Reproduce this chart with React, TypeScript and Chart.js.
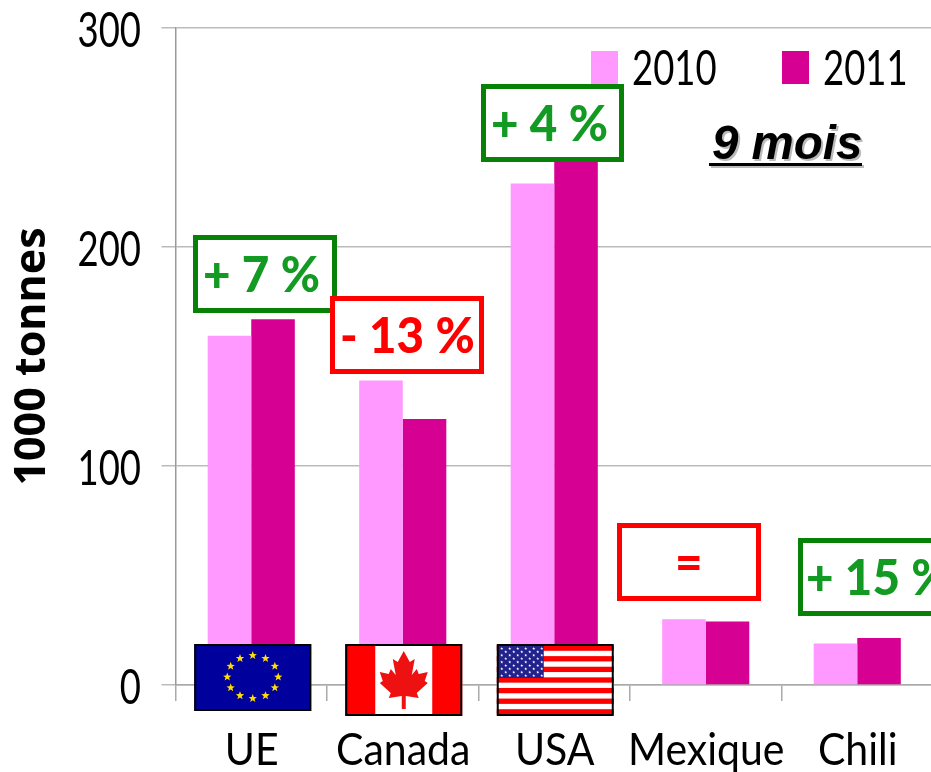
import React, { useEffect, useRef } from "react";
import { Chart, registerables } from "chart.js";

Chart.register(...registerables);

const categories = ["UE", "Canada", "USA", "Mexique", "Chili"];
const seriesNames = ["2010", "2011"];
const values2010 = [159.5, 139, 229, 30, 19];
const values2011 = [167, 121.5, 240, 29, 21.5];
const yTicks = [0, 100, 200, 300];
const yTitle = "1000 tonnes";
const periodLabel = "9 mois";
const changeLabels = ["+ 7 %", "- 13 %", "+ 4 %", "=", "+ 15 %"];

const PINK = "#FF99FF";
const MAGENTA = "#D60093";
const GREEN_BORDER = "#078207";
const GREEN_TEXT = "#129A22";
const RED = "#FF0000";
const LABEL_FONT = "Lato, sans-serif";
const ITALIC_FONT = '"Liberation Sans", Arial, sans-serif';

const changeBoxes = [
  { x: 193, y: 235, w: 144, h: 78, border: GREEN_BORDER, text: GREEN_TEXT, tx: 203 },
  { x: 330, y: 296, w: 154, h: 78, border: RED, text: RED, tx: 340 },
  { x: 481, y: 84, w: 143, h: 78, border: GREEN_BORDER, text: GREEN_TEXT, tx: 491 },
  { x: 617, y: 523, w: 144, h: 78, border: RED, text: RED, tx: 675 },
  { x: 798, y: 538, w: 154, h: 78, border: GREEN_BORDER, text: GREEN_TEXT, tx: 806 },
];

function stretched(
  ctx: CanvasRenderingContext2D,
  text: string,
  x: number,
  baseline: number,
  font: string,
  sy: number,
  align: CanvasTextAlign = "left",
  color = "#000"
) {
  ctx.save();
  ctx.font = font;
  ctx.fillStyle = color;
  ctx.textAlign = align;
  ctx.textBaseline = "alphabetic";
  ctx.translate(x, baseline);
  ctx.scale(1, sy);
  ctx.fillText(text, 0, 0);
  ctx.restore();
}

function star(ctx: CanvasRenderingContext2D, cx: number, cy: number, r: number, color: string) {
  ctx.fillStyle = color;
  ctx.beginPath();
  for (let i = 0; i < 10; i++) {
    const a = -Math.PI / 2 + (i * Math.PI) / 5;
    const rad = i % 2 === 0 ? r : r * 0.42;
    ctx.lineTo(cx + rad * Math.cos(a), cy + rad * Math.sin(a));
  }
  ctx.closePath();
  ctx.fill();
}

function flagFrame(ctx: CanvasRenderingContext2D, x: number, y: number, w: number, h: number) {
  ctx.strokeStyle = "#000";
  ctx.lineWidth = 2;
  ctx.strokeRect(x + 1, y + 1, w - 2, h - 2);
}

function drawEU(ctx: CanvasRenderingContext2D, cx: number, y: number) {
  const w = 117, h = 67, x = cx - w / 2;
  ctx.fillStyle = "#00009C";
  ctx.fillRect(x, y, w, h);
  const ccy = y + 33;
  for (let i = 0; i < 12; i++) {
    const a = (i * Math.PI) / 6;
    star(ctx, cx + 25.5 * Math.sin(a), ccy - 21.5 * Math.cos(a), 4.4, "#FFDD00");
  }
  flagFrame(ctx, x, y, w, h);
}

function drawCanada(ctx: CanvasRenderingContext2D, cx: number, y: number) {
  const w = 117, h = 72, x = cx - w / 2;
  ctx.fillStyle = "#FFFFFF";
  ctx.fillRect(x, y, w, h);
  ctx.fillStyle = "#FF0000";
  ctx.fillRect(x, y, 30, h);
  ctx.fillRect(x + w - 30, y, 30, h);
  const leaf = [
    [0, -28], [-6, -17], [-11, -20], [-8, -4], [-13, -10], [-15, -5], [-24, -7], [-21, 2], [-24, 4],
    [-13, 14], [-15, 19], [-2, 17], [-2, 30], [2, 30], [2, 17], [15, 19], [13, 14], [24, 4], [21, 2],
    [24, -7], [15, -5], [13, -10], [8, -4], [11, -20], [6, -17],
  ];
  const cy = y + 35;
  ctx.fillStyle = "#EE1111";
  ctx.beginPath();
  leaf.forEach(([dx, dy]) => ctx.lineTo(cx + dx, cy + dy));
  ctx.closePath();
  ctx.fill();
  flagFrame(ctx, x, y, w, h);
}

function drawUSA(ctx: CanvasRenderingContext2D, cx: number, y: number) {
  const w = 117, h = 72, x = cx - w / 2;
  ctx.fillStyle = "#FFFFFF";
  ctx.fillRect(x, y, w, h);
  ctx.fillStyle = "#FF0000";
  const sh = (h - 3) / 13;
  for (let i = 0; i < 13; i += 2) ctx.fillRect(x, y + 1.5 + i * sh, w, sh);
  const cw = 46, ch = 33;
  ctx.fillStyle = "#22228C";
  ctx.fillRect(x + 1, y + 1, cw, ch);
  for (let r = 0; r < 9; r++) {
    const n = r % 2 === 0 ? 6 : 5;
    for (let c = 0; c < n; c++) {
      const sx = x + 5 + c * 8 + (r % 2 === 0 ? 0 : 4);
      star(ctx, sx, y + 4.5 + r * 3.4, 1.6, "#FFFFFF");
    }
  }
  flagFrame(ctx, x, y, w, h);
}

const overlayPlugin = {
  id: "overlay",
  afterDraw(chart: any) {
    const ctx: CanvasRenderingContext2D = chart.ctx;
    const xs = chart.scales.x;
    const ys = chart.scales.y;
    ctx.save();

    const labelFont = `36.5px ${LABEL_FONT}`;
    const labelStretch = 1.3;

    // value tick labels
    yTicks.forEach((v) => {
      stretched(ctx, String(v), 141, ys.getPixelForValue(v) + 19, labelFont, labelStretch, "right");
    });

    // category labels
    categories.forEach((c, i) => {
      stretched(ctx, c, xs.getPixelForValue(i) + 0.5, 765, `41px ${LABEL_FONT}`, 1.1, "center");
    });

    // legend
    const legendX = [591, 782];
    const legendColors = [PINK, MAGENTA];
    seriesNames.forEach((name, i) => {
      ctx.fillStyle = legendColors[i];
      ctx.fillRect(legendX[i], 51, 27, 33);
      stretched(ctx, name, legendX[i] + 41, 85, labelFont, labelStretch);
    });

    // flags, anchored on the category scale
    const flagTop = ys.getPixelForValue(0) - 41;
    drawEU(ctx, xs.getPixelForValue(0) + 1.5, flagTop);
    drawCanada(ctx, xs.getPixelForValue(1) + 1, flagTop);
    drawUSA(ctx, xs.getPixelForValue(2) + 1, flagTop);

    // change boxes
    changeBoxes.forEach((b, i) => {
      ctx.fillStyle = "#FFFFFF";
      ctx.fillRect(b.x, b.y, b.w, b.h);
      ctx.strokeStyle = b.border;
      ctx.lineWidth = 5;
      ctx.strokeRect(b.x + 2.5, b.y + 2.5, b.w - 5, b.h - 5);
      stretched(ctx, changeLabels[i], b.tx, b.y + 57, `900 47.5px ${LABEL_FONT}`, 1.06, "left", b.text);
    });

    // period label
    ctx.font = `italic bold 47.5px ${ITALIC_FONT}`;
    ctx.textBaseline = "alphabetic";
    ctx.fillStyle = "#BBBBBB";
    ctx.fillText(periodLabel, 714, 161);
    ctx.fillRect(711, 165, 153, 3);
    ctx.fillStyle = "#000";
    ctx.fillText(periodLabel, 712, 159);
    ctx.fillRect(709, 163, 153, 3);

    ctx.restore();
  },
};

export default function App() {
  const ref = useRef<HTMLCanvasElement | null>(null);
  useEffect(() => {
    document.body.style.margin = "0";
    const chart = new Chart(ref.current as HTMLCanvasElement, {
      type: "bar",
      data: {
        labels: categories,
        datasets: [
          { label: seriesNames[0], data: values2010, backgroundColor: PINK },
          { label: seriesNames[1], data: values2011, backgroundColor: MAGENTA },
        ],
      },
      plugins: [overlayPlugin],
      options: {
        responsive: false,
        animation: false,
        layout: { padding: { top: 28, right: 27, bottom: 0, left: 0 } },
        plugins: { legend: { display: false }, tooltip: { enabled: false } },
        datasets: { bar: { categoryPercentage: 0.575, barPercentage: 1 } },
        scales: {
          x: {
            offset: true,
            afterFit: (s: any) => { s.height = 87; },
            grid: { display: true, drawOnChartArea: false, tickLength: 16, color: "#AAAAAA", lineWidth: 1.5, offset: true },
            border: { color: "#AAAAAA", width: 1.5 },
            ticks: { display: false, autoSkip: false, maxRotation: 0 },
          },
          y: {
            min: 0,
            max: 300,
            afterFit: (s: any) => { s.width = 175.5; },
            afterBuildTicks: (s: any) => { s.ticks = yTicks.map((value) => ({ value })); },
            grid: { color: "#BBBBBB", lineWidth: 1.5, tickLength: 14 },
            border: { color: "#999999", width: 1.5 },
            ticks: { display: false },
            title: {
              display: true,
              text: yTitle,
              color: "#000",
              font: { family: '"Open Sans", sans-serif', size: 43, weight: "bold" },
              padding: { top: 7, bottom: 0 },
            },
          },
        },
      } as any,
    });
    return () => chart.destroy();
  }, []);
  return (
    <div style={{ width: 931, height: 772, overflow: "hidden", position: "relative", background: "#fff" }}>
      <canvas ref={ref} width={960} height={772} style={{ display: "block" }} />
    </div>
  );
}
